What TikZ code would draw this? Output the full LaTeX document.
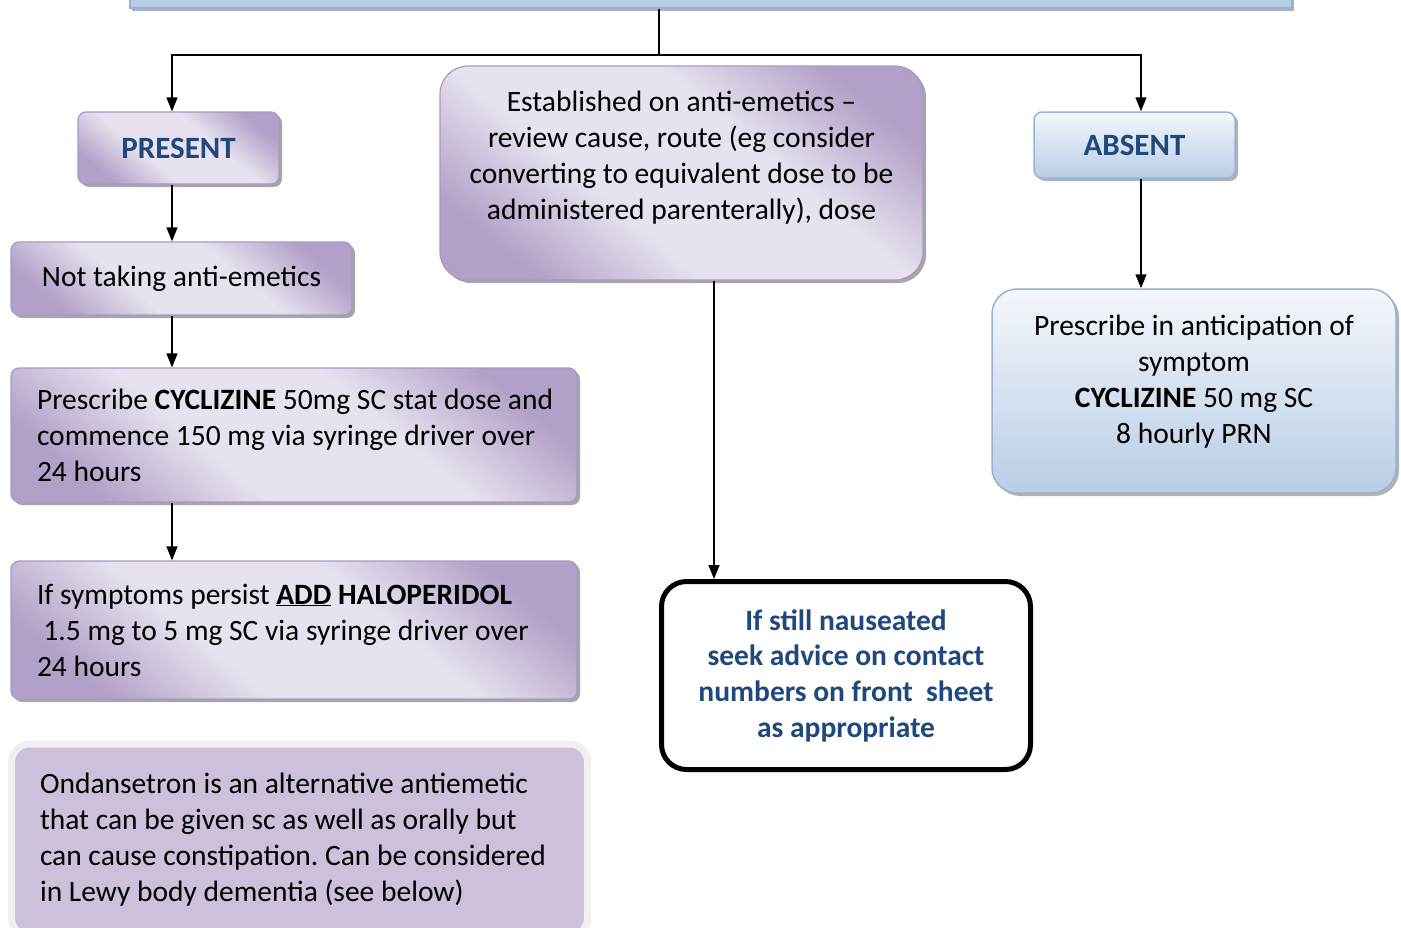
\documentclass[tikz,border=0pt]{standalone}
\usepackage{fontspec}
\setmainfont{Carlito}
\usetikzlibrary{arrows.meta, shadows}

\definecolor{purpdark}{HTML}{B1A0C7}
\definecolor{purplight}{HTML}{E7E2EE}
\definecolor{purpline}{HTML}{A998C4}
\definecolor{bluedark}{HTML}{B9CDE5}
\definecolor{bluelight}{HTML}{F4F7FB}
\definecolor{blueline}{HTML}{95B3D7}
\definecolor{textblue}{HTML}{1F497D}
\definecolor{lavender}{HTML}{CCC0DA}
\definecolor{rimgray}{HTML}{F0F0F0}

\pgfdeclareverticalshading{purpfade}{100bp}{color(0bp)=(purpdark);
  color(24bp)=(purpdark); color(40bp)=(purplight); color(60bp)=(purplight);
  color(76bp)=(purpdark); color(100bp)=(purpdark)}

\frenchspacing

\begin{document}
\begin{tikzpicture}[x=1pt, y=-1pt,
  font=\fontsize{29.5}{36}\selectfont,
  purpbox/.style={draw=purpline, line width=1.2pt, rounded corners=8pt,
              shading=purpfade, shading angle=-40,
              drop shadow={shadow xshift=3pt, shadow yshift=-3pt,
                           fill=black!35, opacity=1}},
  bluebox/.style={draw=blueline, line width=1.5pt, rounded corners=8pt,
              top color=bluelight, bottom color=bluedark,
              drop shadow={shadow xshift=3pt, shadow yshift=-3pt,
                           fill=black!30, opacity=1}},
  tag/.style={font=\fontsize{31}{36}\selectfont\bfseries, text=textblue},
  arr/.style={-{Triangle[length=14pt, width=11pt]}, line width=1.5pt},
  line/.style={line width=1.5pt},
]
  \useasboundingbox (0,0) rectangle (1401,927);

  % Top bar (cut by the page edge)
  \node[draw=blueline, line width=1.5pt, fill=bluedark,
        drop shadow={shadow xshift=2pt, shadow yshift=-3pt, fill=black!30, opacity=1},
        minimum width=1162pt, minimum height=40pt] (top) at (711,-12) {};

  % Present branch
  \node[purpbox, tag, minimum width=201pt, minimum height=72pt] (present)
        at (178.5,148) {PRESENT};
  \node[purpbox, minimum width=341pt, minimum height=73pt] (nottaking)
        at (181.5,278.5) {Not taking anti-emetics};
  \node[purpbox, minimum height=134pt, text width=514pt, inner xsep=26pt,
        align=flush left] (cycl) at (294,435)
        {\mbox{Prescribe \textbf{CYCLIZINE} 50mg SC stat dose and}\\
         commence 150 mg via syringe driver over\\
         24 hours};
  \node[purpbox, minimum height=138pt, text width=514pt, inner xsep=26pt,
        align=flush left] (halo) at (294,630)
        {If symptoms persist \underline{\textbf{ADD}} \textbf{HALOPERIDOL}\\
         \hspace*{0.22em}1.5 mg to 5 mg SC via syringe driver over\\
         24 hours};

  % Note
  \node[draw=rimgray, line width=7pt, fill=lavender, rounded corners=18pt,
        minimum height=192pt, text width=519pt, inner xsep=28.5pt,
        align=flush left] (ondan) at (299.5,840)
        {Ondansetron is an alternative antiemetic\\
         that can be given sc as well as orally but\\
         \mbox{can cause constipation. Can be considered}\\
         in Lewy body dementia (see below)};

  % Established branch
  \node[purpbox, rounded corners=28pt, minimum width=483pt,
        minimum height=214pt, align=center] (estab) at (681.5,173)
        {Established on anti-emetics --\\
         review cause, route (eg consider\\
         converting to equivalent dose to be\\
         administered parenterally), dose\\ \mbox{}};
  \node[draw, line width=5pt, rounded corners=25pt, fill=white,
        minimum width=369pt, minimum height=188pt, align=center,
        font=\fontsize{29.5}{35.7}\selectfont\bfseries, text=textblue]
        (ifstill) at (846,675.5)
        {If still nauseated\\
         seek advice on contact\\
         numbers on front\ \ sheet\\
         as appropriate};

  % Absent branch
  \node[bluebox, tag, minimum width=201pt, minimum height=66pt] (absent)
        at (1134.5,145) {ABSENT};
  \node[bluebox, rounded corners=25pt, minimum width=404pt,
        minimum height=204pt, align=center] (antic) at (1194,391)
        {Prescribe in anticipation of\\
         symptom\\
         \textbf{CYCLIZINE} 50 mg SC\\
         8 hourly PRN\\[-12pt] \mbox{}};

  % Connectors
  \coordinate (hub) at (659,55);
  \coordinate (lspine) at (172,0);
  \coordinate (mspine) at (714,0);
  \coordinate (rspine) at (1141,0);

  \draw[line] (top.south -| hub) -- (hub);
  \draw[arr] (hub) -| (present.north -| lspine);
  \draw[arr] (hub) -| (absent.north -| rspine);
  \draw[arr] (present.south -| lspine) -- (nottaking.north -| lspine);
  \draw[arr] (nottaking.south -| lspine) -- (cycl.north -| lspine);
  \draw[arr] (cycl.south -| lspine) -- (halo.north -| lspine);
  \draw[arr] (estab.south -| mspine) -- (ifstill.north -| mspine);
  \draw[arr] (absent.south -| rspine) -- (antic.north -| rspine);
\end{tikzpicture}
\end{document}
